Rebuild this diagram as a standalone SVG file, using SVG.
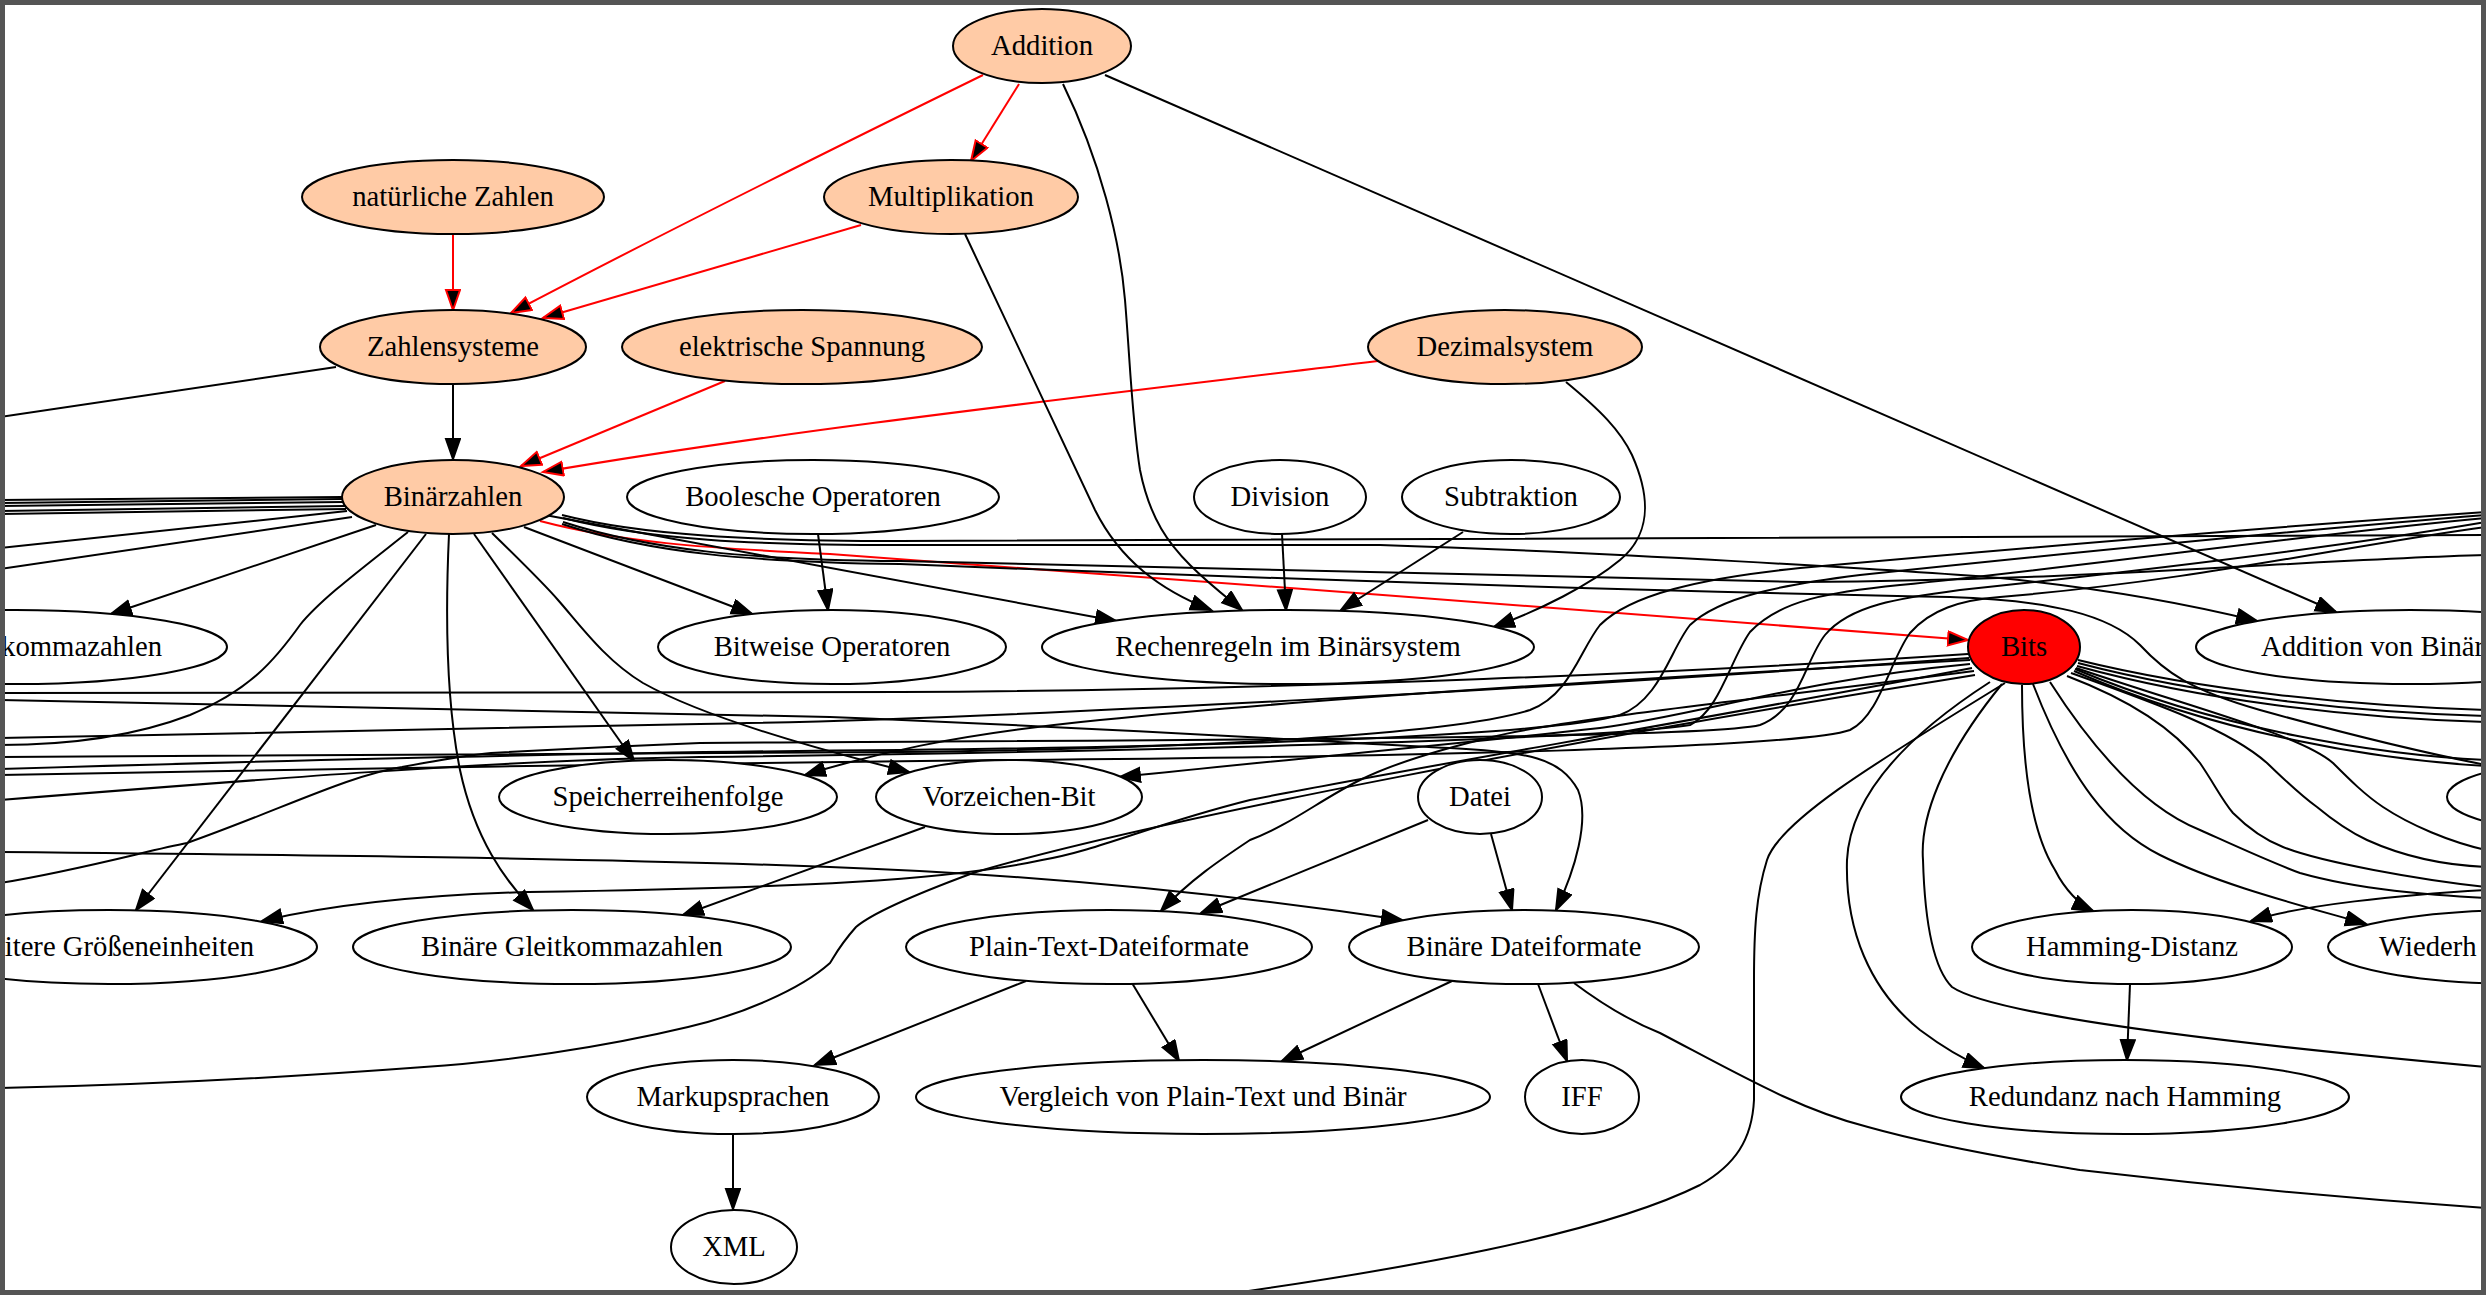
<svg xmlns="http://www.w3.org/2000/svg" width="2486" height="1295" viewBox="0 0 2486 1295">
<defs>
<style>
.e{fill:none;stroke:#000;stroke-width:2}
.r{fill:none;stroke:#f00;stroke-width:2}
.a{marker-end:url(#ab)}
.ar{marker-end:url(#ar)}
.n ellipse{stroke:#000;stroke-width:2;fill:#fff}
.p ellipse{fill:#ffcba6}
.n text{font-size:28.7px;fill:#000;text-anchor:middle}
</style>
<marker id="ab" markerUnits="userSpaceOnUse" viewBox="0 0 24 18" markerWidth="24" markerHeight="18" refX="21" refY="8" orient="auto"><path d="M1,1 L21,8 L1,15 z" fill="#000" stroke="#000" stroke-width="2"/></marker>
<marker id="ar" markerUnits="userSpaceOnUse" viewBox="0 0 24 18" markerWidth="24" markerHeight="18" refX="21" refY="8" orient="auto"><path d="M1,1 L21,8 L1,15 z" fill="#000" stroke="#f00" stroke-width="2"/></marker>
</defs>
<rect x="0" y="0" width="2486" height="1295" fill="#fff"/>
<g id="connectors">
<path class="r ar" d="M983,75 C830,150 650,240 511,313"/>
<path class="r ar" d="M1019,84 L971,161"/>
<path class="r ar" d="M861,225 L543,318"/>
<path class="r ar" d="M453,234 L453,310"/>
<path class="r ar" d="M725,381 L521,466"/>
<path class="r ar" d="M1378,361 C1100,395 800,428 543,472"/>
<path class="r ar" d="M540,521 C620,542 700,548 830,554 C1200,580 1600,612 1968,640"/>
<path class="e a" d="M453,384 L453,459"/>
<path class="e a" d="M1063,84 C1100,160 1120,240 1125,300 C1130,360 1132,420 1140,470 C1150,520 1170,545 1190,565 C1210,585 1230,600 1242,610"/>
<path class="e a" d="M965,234 L1095,510 C1120,560 1160,590 1211,610"/>
<path class="e a" d="M1566,382 C1600,410 1620,430 1632,455 C1652,500 1650,535 1620,560 C1590,585 1540,610 1494,627"/>
<path class="e a" d="M1282,534 L1286,610"/>
<path class="e a" d="M1463,532 L1341,610"/>
<path class="e a" d="M1105,75 L2336,612"/>
<path class="e a" d="M818,534 L828,610"/>
<path class="e a" d="M376,525 L111,614"/>
<path class="e a" d="M524,527 L752,614"/>
<path class="e a" d="M545,515 L1116,621"/>
<path class="e a" d="M474,534 L634,761"/>
<path class="e a" d="M492,533 C530,570 545,585 558,600 C580,625 605,660 643,683 C700,715 800,745 909,772"/>
<path class="e a" d="M426,534 L136,910"/>
<path class="e a" d="M449,534 C445,620 446,700 460,770 C475,840 505,880 533,910"/>
<path class="e a" d="M1428,820 L1201,913"/>
<path class="e a" d="M1491,834 L1512,910"/>
<path class="e a" d="M1132,983 L1179,1061"/>
<path class="e a" d="M1026,981 L815,1065"/>
<path class="e a" d="M1452,981 L1282,1061"/>
<path class="e a" d="M1538,984 L1567,1061"/>
<path class="e a" d="M733,1134 L733,1209"/>
<path class="e a" d="M925,827 L683,915"/>
<path class="e a" d="M2130,984 L2127,1060"/>
<path class="e a" d="M1970,660 C1600,680 1300,700 1100,720 C950,735 870,755 805,775"/>
<path class="e a" d="M1970,664 C1800,680 1700,715 1600,728 C1450,745 1300,758 1120,777"/>
<path class="e a" d="M1972,668 C1700,720 1400,770 1250,800 C1150,825 1100,850 1042,860 C950,880 800,888 529,892 C420,895 330,905 262,921"/>
<path class="e a" d="M1974,671 C1750,700 1560,720 1492,737 C1430,752 1390,765 1360,780 C1320,800 1290,825 1250,840 C1220,860 1190,880 1161,911"/>
<path class="e a" d="M2022,685 C2022,760 2030,830 2055,870 C2065,890 2080,905 2093,911"/>
<path class="e a" d="M2033,684 C2070,780 2110,830 2160,855 C2220,885 2300,905 2366,924"/>
<path class="e a" d="M1990,682 C1900,740 1850,800 1847,860 C1845,930 1870,990 1920,1030 C1940,1045 1960,1058 1984,1068"/>
<path class="e a" d="M2486,890 C2400,895 2300,905 2251,921"/>
<path class="e a" d="M563,518 C650,540 750,545 900,545 L1380,545 C1600,552 1900,570 2000,578 C2100,588 2180,602 2257,621"/>
<path class="e a" d="M0,700 C300,705 600,713 830,717 C1100,728 1300,740 1450,748 C1530,752 1560,758 1578,790 C1590,820 1575,870 1556,910"/>
<path class="e a" d="M0,852 C300,855 600,858 830,867 C1000,873 1200,890 1402,920"/>
<path class="e" d="M336,367 L0,417"/>
<path class="e" d="M342,497 L0,500"/>
<path class="e" d="M342,499 L0,503"/>
<path class="e" d="M343,502 L0,506"/>
<path class="e" d="M345,506 L0,511"/>
<path class="e" d="M346,509 L0,514"/>
<path class="e" d="M347,511 L0,548"/>
<path class="e" d="M352,517 L0,569"/>
<path class="e" d="M408,532 C360,570 320,600 300,625 C275,660 250,690 190,715 C130,738 60,745 0,745"/>
<path class="e" d="M562,515 C640,535 750,541 900,541 L2486,535"/>
<path class="e" d="M563,522 C650,550 750,560 900,561 C1300,570 1600,580 1800,582 C2100,580 2300,560 2486,555"/>
<path class="e" d="M562,524 C650,553 750,562 900,564 C1300,580 1700,592 1950,597 C2050,600 2110,615 2140,645 C2165,672 2190,690 2260,710 C2350,735 2420,752 2486,765"/>
<path class="e" d="M1968,654 C1700,672 1300,690 900,692 L0,693"/>
<path class="e" d="M1969,658 C1600,685 1000,720 700,724 C400,728 200,735 0,738"/>
<path class="e" d="M1975,675 C1600,735 1150,820 973,873 C900,900 870,915 856,927 C840,945 835,955 830,963 C800,990 740,1015 688,1027 C600,1048 500,1062 424,1067 C250,1080 100,1086 0,1088"/>
<path class="e" d="M0,757 C300,757 600,755 900,752 C1200,748 1450,735 1530,710 C1570,695 1580,650 1600,625 C1630,595 1700,578 1800,568 C2000,550 2300,525 2486,512"/>
<path class="e" d="M0,769 C300,760 600,752 900,750 C1250,746 1550,735 1620,715 C1660,700 1670,650 1690,625 C1720,597 1780,585 1860,575 C2050,555 2300,530 2486,515"/>
<path class="e" d="M0,800 C250,780 500,760 700,757 C1100,752 1600,740 1690,725 C1720,710 1730,660 1750,632 C1780,600 1830,592 1900,585 C2100,565 2300,535 2486,518"/>
<path class="e" d="M0,883 C80,870 150,850 187,843 C280,810 350,775 402,767 C450,758 470,755 491,753 C600,747 650,745 700,743 C1100,740 1700,740 1760,725 C1800,710 1805,660 1825,635 C1850,605 1900,598 1960,590 C2150,570 2350,545 2486,522"/>
<path class="e" d="M0,775 C300,770 700,762 1000,760 C1400,757 1800,748 1850,730 C1880,715 1890,660 1910,633 C1930,610 1960,600 2000,597 C2200,580 2350,545 2486,527"/>
<path class="e" d="M2078,660 C2200,690 2350,706 2486,710"/>
<path class="e" d="M2078,663 C2200,695 2350,712 2486,716"/>
<path class="e" d="M2077,666 C2200,700 2350,718 2486,722"/>
<path class="e" d="M2075,669 C2220,730 2380,755 2486,760"/>
<path class="e" d="M2074,671 C2220,735 2380,760 2486,766"/>
<path class="e" d="M2067,676 C2130,700 2175,730 2200,763 C2215,785 2222,800 2233,813 C2250,830 2265,840 2283,847 C2320,862 2420,880 2486,887"/>
<path class="e" d="M2071,673 C2160,705 2230,730 2267,763 C2285,780 2300,795 2317,807 C2335,822 2350,832 2367,840 C2400,855 2440,865 2486,867"/>
<path class="e" d="M2076,668 C2200,710 2300,735 2333,763 C2350,780 2365,795 2383,807 C2410,825 2450,842 2486,850"/>
<path class="e" d="M2050,682 C2100,760 2150,810 2200,830 C2240,848 2270,862 2300,873 C2360,890 2430,895 2486,898"/>
<path class="e" d="M2005,683 C1880,760 1780,820 1767,860 C1756,895 1754,930 1754,980 L1754,1100 C1752,1140 1735,1165 1700,1185 C1600,1235 1400,1270 1200,1298"/>
<path class="e" d="M2002,684 C1940,760 1920,820 1923,860 C1925,930 1935,970 1952,987 C2000,1020 2300,1050 2486,1067"/>
<path class="e" d="M1574,983 C1610,1010 1640,1025 1660,1033 C1740,1075 1800,1110 1868,1127 C1950,1150 2050,1165 2080,1170 C2250,1190 2400,1202 2486,1208"/>
</g>
<g font-family="Liberation Serif, Times New Roman, DejaVu Serif, serif">
<g id="n_addition" class="n p"><ellipse cx="1042" cy="46" rx="89" ry="37"/><text x="1042" y="55">Addition</text></g>
<g id="n_natuerliche" class="n p"><ellipse cx="453" cy="197" rx="151" ry="37"/><text x="453" y="206">natürliche Zahlen</text></g>
<g id="n_multiplikation" class="n p"><ellipse cx="951" cy="197" rx="127" ry="37"/><text x="951" y="206">Multiplikation</text></g>
<g id="n_zahlensysteme" class="n p"><ellipse cx="453" cy="347" rx="133" ry="37"/><text x="453" y="356">Zahlensysteme</text></g>
<g id="n_spannung" class="n p"><ellipse cx="802" cy="347" rx="180" ry="37"/><text x="802" y="356">elektrische Spannung</text></g>
<g id="n_dezimal" class="n p"><ellipse cx="1505" cy="347" rx="137" ry="37"/><text x="1505" y="356">Dezimalsystem</text></g>
<g id="n_binaerzahlen" class="n p"><ellipse cx="453" cy="497" rx="111" ry="37"/><text x="453" y="506">Binärzahlen</text></g>
<g id="n_boolesche" class="n"><ellipse cx="813" cy="497" rx="186" ry="37"/><text x="813" y="506">Boolesche Operatoren</text></g>
<g id="n_division" class="n"><ellipse cx="1280" cy="497" rx="86" ry="37"/><text x="1280" y="506">Division</text></g>
<g id="n_subtraktion" class="n"><ellipse cx="1511" cy="497" rx="109" ry="37"/><text x="1511" y="506">Subtraktion</text></g>
<g id="n_festkomma" class="n"><ellipse cx="16" cy="647" rx="211" ry="37"/><text x="162" y="656" style="text-anchor:end">kommazahlen</text></g>
<g id="n_bitweise" class="n"><ellipse cx="832" cy="647" rx="174" ry="37"/><text x="832" y="656">Bitweise Operatoren</text></g>
<g id="n_rechenregeln" class="n"><ellipse cx="1288" cy="647" rx="246" ry="37"/><text x="1288" y="656">Rechenregeln im Binärsystem</text></g>
<g id="n_bits" class="n"><ellipse cx="2024" cy="647" rx="56" ry="37" style="fill:#f00"/><text x="2024" y="656">Bits</text></g>
<g id="n_addbin" class="n"><ellipse cx="2410" cy="647" rx="214" ry="37"/><text x="2261" y="656" style="text-anchor:start">Addition von Binär</text></g>
<g id="n_speicher" class="n"><ellipse cx="668" cy="797" rx="169" ry="37"/><text x="668" y="806">Speicherreihenfolge</text></g>
<g id="n_vorzeichen" class="n"><ellipse cx="1009" cy="797" rx="133" ry="37"/><text x="1009" y="806">Vorzeichen-Bit</text></g>
<g id="n_datei" class="n"><ellipse cx="1480" cy="797" rx="62" ry="37"/><text x="1480" y="806">Datei</text></g>
<g id="n_rechts" class="n"><ellipse cx="2600" cy="797" rx="153" ry="37"/></g>
<g id="n_weitere" class="n"><ellipse cx="109" cy="947" rx="208" ry="37"/><text x="254" y="956" style="text-anchor:end">itere Größeneinheiten</text></g>
<g id="n_gleitkomma" class="n"><ellipse cx="572" cy="947" rx="219" ry="37"/><text x="572" y="956">Binäre Gleitkommazahlen</text></g>
<g id="n_plaintext" class="n"><ellipse cx="1109" cy="947" rx="203" ry="37"/><text x="1109" y="956">Plain-Text-Dateiformate</text></g>
<g id="n_binaerdatei" class="n"><ellipse cx="1524" cy="947" rx="175" ry="37"/><text x="1524" y="956">Binäre Dateiformate</text></g>
<g id="n_hamming" class="n"><ellipse cx="2132" cy="947" rx="160" ry="37"/><text x="2132" y="956">Hamming-Distanz</text></g>
<g id="n_wiederh" class="n"><ellipse cx="2528" cy="947" rx="200" ry="37"/><text x="2379" y="956" style="text-anchor:start">Wiederh</text></g>
<g id="n_markup" class="n"><ellipse cx="733" cy="1097" rx="146" ry="37"/><text x="733" y="1106">Markupsprachen</text></g>
<g id="n_vergleich" class="n"><ellipse cx="1203" cy="1097" rx="287" ry="37"/><text x="1203" y="1106">Vergleich von Plain-Text und Binär</text></g>
<g id="n_iff" class="n"><ellipse cx="1582" cy="1097" rx="57" ry="37"/><text x="1582" y="1106">IFF</text></g>
<g id="n_redundanz" class="n"><ellipse cx="2125" cy="1097" rx="224" ry="37"/><text x="2125" y="1106">Redundanz nach Hamming</text></g>
<g id="n_xml" class="n"><ellipse cx="734" cy="1247" rx="63" ry="37"/><text x="734" y="1256">XML</text></g>
</g>
<rect x="2.5" y="2.5" width="2481" height="1290" fill="none" stroke="#555" stroke-width="5"/>
</svg>
